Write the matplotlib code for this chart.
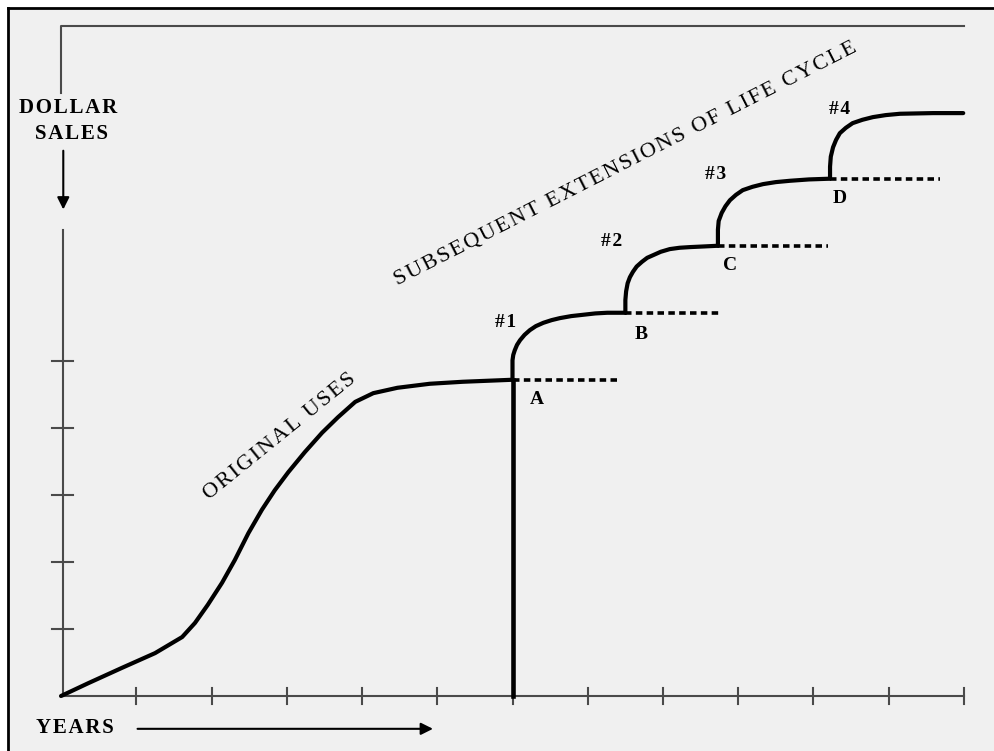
import numpy as np
import matplotlib.pyplot as plt
from matplotlib.patches import Rectangle

# original life-cycle curve (x in years, y in sales units)
orig_x = [0.0, 0.36, 0.81, 1.25, 1.61, 1.78, 1.95, 2.14, 2.31, 2.49, 2.67, 2.84, 3.02,
          3.24, 3.47, 3.68, 3.91, 4.15, 4.47, 4.90, 5.34, 6.0]
orig_y = [0.0, 0.19, 0.42, 0.64, 0.88, 1.09, 1.36, 1.69, 2.03, 2.43, 2.78, 3.07, 3.34,
          3.64, 3.93, 4.16, 4.39, 4.52, 4.60, 4.66, 4.69, 4.72]

# subsequent extensions #1..#4
ext_x = [
    [6.0, 6.0, 6.01, 6.03, 6.06, 6.10, 6.16, 6.23, 6.31, 6.41, 6.52, 6.63, 6.78, 6.94, 7.10, 7.26, 7.50],
    [7.50, 7.50, 7.51, 7.53, 7.56, 7.60, 7.65, 7.72, 7.79, 7.87, 7.97, 8.09, 8.22, 8.36, 8.55, 8.73],
    [8.73, 8.73, 8.74, 8.78, 8.83, 8.89, 8.97, 9.06, 9.19, 9.33, 9.50, 9.69, 9.94, 10.20],
    [10.22, 10.22, 10.23, 10.26, 10.30, 10.35, 10.43, 10.52, 10.65, 10.79, 10.96, 11.15, 11.59, 11.99],
]
ext_y = [
    [4.72, 5.01, 5.09, 5.16, 5.24, 5.31, 5.39, 5.46, 5.52, 5.57, 5.61, 5.64, 5.67, 5.69, 5.71, 5.72, 5.72],
    [5.72, 5.91, 6.04, 6.16, 6.25, 6.33, 6.41, 6.48, 6.54, 6.58, 6.63, 6.67, 6.69, 6.70, 6.71, 6.72],
    [6.72, 6.96, 7.09, 7.21, 7.31, 7.40, 7.48, 7.55, 7.60, 7.64, 7.67, 7.69, 7.71, 7.72],
    [7.72, 7.90, 8.05, 8.19, 8.30, 8.40, 8.48, 8.55, 8.60, 8.64, 8.67, 8.69, 8.70, 8.70],
]
ext_labels = ["#1", "#2", "#3", "#4"]
ext_label_pos = [(5.91, 5.58), (7.32, 6.78), (8.70, 7.79), (10.35, 8.76)]

# dotted plateaus A..D (sales if no extension)
plateau_labels = ["A", "B", "C", "D"]
plateau_x0 = [6.0, 7.50, 8.73, 10.22]
plateau_x1 = [7.43, 8.76, 10.19, 11.68]
plateau_y = [4.72, 5.72, 6.72, 7.72]
plateau_label_pos = [(6.33, 4.42), (7.71, 5.39), (8.89, 6.43), (10.35, 7.42)]

x_ticks = list(range(1, 13))
y_ticks = list(range(1, 6))

serif = ["Liberation Serif", "DejaVu Serif"]
axis_col = "#4a4a4a"


def spaced(s):
    # slightly letter-spaced caption, like the typeset original
    return "\u200a".join(s)


fig = plt.figure(figsize=(9.94, 7.51), dpi=100, facecolor="white")
# grey panel with black border on top and left
fig.patches.append(Rectangle((8 / 994, 0), 1, 1 - 8 / 751, transform=fig.transFigure,
                             facecolor="#f0f0f0", edgecolor="none", zorder=-10))
fig.add_artist(plt.Line2D([8 / 994, 8 / 994], [0, 1 - 8 / 751], color="black", lw=2,
                          transform=fig.transFigure, zorder=-5))
fig.add_artist(plt.Line2D([8 / 994, 1], [1 - 8 / 751, 1 - 8 / 751], color="black", lw=2,
                          transform=fig.transFigure, zorder=-5))

ax = fig.add_axes([0, 0, 1, 1])
ax.set_xlim(-0.811, 12.399)
ax.set_ylim(-0.821, 10.388)
ax.axis("off")

# axes
ax.plot([0, 12], [0, 0], color=axis_col, lw=1.5)
ax.plot([0.03, 0.03], [0, 6.96], color=axis_col, lw=1.5)
for t in x_ticks:
    ax.plot([t, t], [-0.12, 0.12], color=axis_col, lw=1.5)
for t in y_ticks:
    ax.plot([-0.12, 0.16], [t, t], color=axis_col, lw=1.5)

# top frame line
ax.plot([0, 0, 12], [9.0, 10.0, 10.0], color=axis_col, lw=1.5)

# curves
ax.plot(orig_x, orig_y, color="black", lw=3, solid_joinstyle="round", solid_capstyle="round")
ax.plot([6.0, 6.0], [0, orig_y[-1]], color="black", lw=3.3)
for xs, ys, lab, pos in zip(ext_x, ext_y, ext_labels, ext_label_pos):
    ax.plot(xs, ys, color="black", lw=3, solid_joinstyle="round", solid_capstyle="round")
    ax.text(pos[0], pos[1], spaced(lab), ha="center", va="center", fontsize=14,
            fontweight="bold", family=serif)
for x0, x1, y, lab, pos in zip(plateau_x0, plateau_x1, plateau_y, plateau_labels, plateau_label_pos):
    ax.plot([x0, x1], [y, y], color="black", lw=2.6, linestyle=(0, (1.8, 1.2)))
    ax.text(pos[0], pos[1], lab, ha="center", va="center", fontsize=14,
            fontweight="bold", family=serif)

# rotated labels
ax.text(2.91, 3.87, spaced("ORIGINAL USES"), rotation=39, rotation_mode="anchor",
        ha="center", va="center", fontsize=16, family=serif)
ax.text(7.51, 7.94, spaced("SUBSEQUENT EXTENSIONS OF LIFE CYCLE"), rotation=27,
        rotation_mode="anchor", ha="center", va="center", fontsize=16, family=serif)

# axis titles
ax.text(0.09, 8.78, spaced("DOLLAR"), ha="center", va="center", fontsize=15,
        fontweight="bold", family=serif)
ax.text(0.14, 8.39, spaced("SALES"), ha="center", va="center", fontsize=15,
        fontweight="bold", family=serif)
ax.annotate("", xy=(0.03, 7.22), xytext=(0.03, 8.18),
            arrowprops=dict(arrowstyle="-|>", color="black", lw=1.5, mutation_scale=18))
ax.text(0.19, -0.48, spaced("YEARS"), ha="center", va="center", fontsize=15,
        fontweight="bold", family=serif)
ax.annotate("", xy=(4.98, -0.49), xytext=(0.98, -0.49),
            arrowprops=dict(arrowstyle="-|>", color="black", lw=1.5, mutation_scale=18))

fig.savefig("out.png", dpi=100)
